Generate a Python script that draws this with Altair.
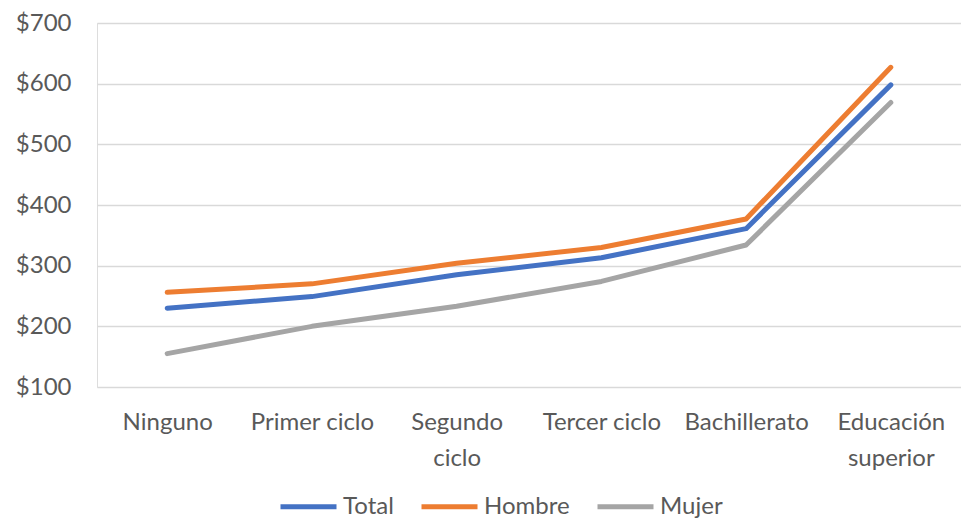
import altair as alt
import pandas as pd

categories = ["Ninguno", "Primer ciclo", "Segundo ciclo", "Tercer ciclo", "Bachillerato", "Educación superior"]
series = ["Total", "Hombre", "Mujer"]
total = [230, 249, 285, 313, 361, 598]
hombre = [256, 270, 304, 330, 377, 627]
mujer = [155, 200, 233, 274, 334, 569]
colors = ["#4472C4", "#ED7D31", "#A5A5A5"]

rows = []
for name, vals in zip(series, [total, hombre, mujer]):
    for c, v in zip(categories, vals):
        rows.append({"cat": c, "serie": name, "valor": v})
df = pd.DataFrame(rows)

FONT = "Lato"
GREY = "#595959"

chart = alt.Chart(df).mark_line(strokeWidth=5, strokeCap="round", strokeJoin="round").encode(
    x=alt.X("cat:N", sort=categories, title=None,
            scale=alt.Scale(type="point", padding=0.485),
            axis=alt.Axis(labelAngle=0, domain=False, ticks=False, grid=False,
                          labelFont=FONT, labelFontSize=24, labelColor=GREY,
                          labelPadding=23, labelLineHeight=36, labelBaseline="top",
                          labelExpr="datum.label == 'Segundo ciclo' || datum.label == 'Educación superior' ? split(datum.label, ' ') : datum.label")),
    y=alt.Y("valor:Q", title=None,
            scale=alt.Scale(domain=[100, 700], nice=False, zero=False),
            axis=alt.Axis(values=[100, 200, 300, 400, 500, 600, 700], format="$d",
                          domain=False, ticks=False, gridColor="#D9D9D9", gridWidth=1.5,
                          labelFont=FONT, labelFontSize=24, labelColor=GREY,
                          labelPadding=26)),
    color=alt.Color("serie:N", sort=series, title=None,
                    scale=alt.Scale(domain=series, range=colors),
                    legend=alt.Legend(orient="none", direction="horizontal",
                                      legendX=181, legendY=453,
                                      symbolType="stroke", symbolSize=3136,
                                      symbolStrokeWidth=5, labelOffset=4,
                                      columnPadding=17,
                                      labelFont=FONT, labelFontSize=24, labelColor=GREY)),
).properties(
    width=864, height=364,
    autosize=alt.AutoSizeParams(type="none"),
    padding={"left": 89, "top": 15, "right": 0, "bottom": 131},
).configure_view(stroke=None).configure(background="white")

chart.save("out.html", embed_options={"renderer": "svg", "actions": False})
